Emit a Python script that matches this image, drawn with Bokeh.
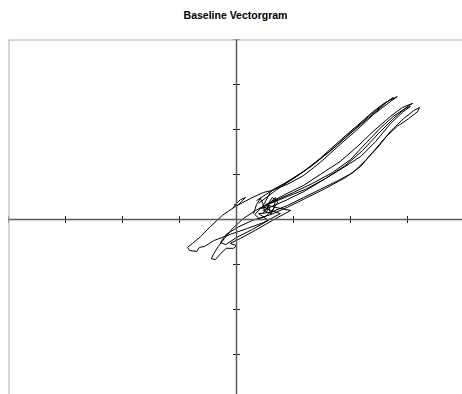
from bokeh.plotting import figure
from bokeh.models import Range1d, Span, Title
from bokeh.embed import file_html
from bokeh.resources import INLINE
import math

# Vector loops (x, y in axis-tick units)
loop1_x = [0.46, 0.60, 0.89, 1.18, 1.47, 1.82, 2.12, 2.40, 2.61, 2.82, 2.70, 2.40, 2.12, 1.82, 1.47, 1.18, 0.89, 0.60, 0.47, 0.25, -0.02, -0.25, -0.46, -0.63, -0.77, -0.86, -0.82, -0.70, -0.65, -0.56, -0.40, -0.11, 0.19, 0.47, 0.77, 0.60, 0.46]
loop1_y = [0.29, 0.62, 0.84, 1.07, 1.36, 1.76, 2.09, 2.40, 2.60, 2.73, 2.62, 2.33, 2.00, 1.67, 1.27, 0.98, 0.78, 0.64, 0.60, 0.47, 0.29, 0.09, -0.16, -0.38, -0.53, -0.62, -0.69, -0.71, -0.62, -0.60, -0.47, -0.33, -0.20, -0.07, 0.13, 0.20, 0.29]

loop2_x = [0.51, 0.89, 1.18, 1.47, 1.82, 2.12, 2.40, 2.70, 2.91, 3.09, 3.00, 2.75, 2.49, 2.21, 1.91, 1.56, 1.21, 0.89, 0.60, 0.33, 0.12, -0.07, -0.21, -0.32, -0.40, -0.44, -0.37, -0.28, -0.18, -0.05, 0.00, -0.11, 0.07, 0.33, 0.63, 0.95, 0.68, 0.51]
loop2_y = [0.33, 0.58, 0.76, 1.00, 1.29, 1.62, 1.96, 2.29, 2.49, 2.58, 2.51, 2.24, 1.91, 1.53, 1.20, 0.91, 0.67, 0.51, 0.36, 0.20, 0.02, -0.20, -0.42, -0.60, -0.76, -0.87, -0.89, -0.76, -0.64, -0.64, -0.58, -0.53, -0.42, -0.24, -0.02, 0.20, 0.27, 0.33]

loop3_x = [0.39, 0.60, 0.89, 1.18, 1.47, 1.79, 2.04, 2.26, 2.49, 2.70, 2.93, 3.11, 3.21, 3.18, 3.02, 2.82, 2.61, 2.40, 2.18, 1.91, 1.56, 1.21, 0.89, 0.60, 0.28, 0.04, -0.18, -0.28, -0.19, 0.00, 0.28, 0.56, 0.39]
loop3_y = [0.13, 0.16, 0.31, 0.49, 0.67, 0.87, 1.04, 1.31, 1.62, 1.96, 2.24, 2.42, 2.49, 2.40, 2.24, 2.07, 1.82, 1.51, 1.18, 0.93, 0.69, 0.47, 0.27, 0.11, -0.02, -0.16, -0.33, -0.51, -0.56, -0.40, -0.22, -0.02, 0.13]

loop4_x = [0.46, 0.89, 1.18, 1.47, 1.82, 2.18, 2.44, 2.70, 2.91, 3.05, 2.96, 2.75, 2.53, 2.28, 2.00, 1.68, 1.33, 1.00, 0.68, 0.39]
loop4_y = [0.20, 0.44, 0.62, 0.84, 1.11, 1.40, 1.73, 2.13, 2.38, 2.51, 2.47, 2.29, 2.04, 1.71, 1.33, 1.04, 0.80, 0.60, 0.42, 0.24]

loop5_x = [0.39, 0.68, 0.95, 1.30, 1.65, 2.00, 2.32, 2.58, 2.75, 2.63, 2.39, 2.04, 1.70, 1.33, 1.00, 0.68, 0.35]
loop5_y = [0.36, 0.64, 0.87, 1.18, 1.53, 1.93, 2.29, 2.56, 2.71, 2.60, 2.33, 1.96, 1.58, 1.20, 0.91, 0.69, 0.42]

loop6_x = [0.30, 0.35, 0.42, 0.46, 0.49, 0.53, 0.58, 0.63, 0.68, 0.65, 0.60, 0.56, 0.68, 0.72, 0.63, 0.51, 0.40, 0.32, 0.42, 0.56, 0.46]
loop6_y = [0.13, 0.33, 0.47, 0.36, 0.20, 0.16, 0.40, 0.49, 0.42, 0.24, 0.11, 0.33, 0.49, 0.38, 0.20, 0.07, 0.02, 0.11, 0.24, 0.29, 0.13]

loop7_x = [-0.07, 0.00, 0.07, 0.16, 0.09, 0.02, -0.04]
loop7_y = [0.24, 0.36, 0.44, 0.49, 0.40, 0.31, 0.33]

x_ticks = [-4, -3, -2, -1, 1, 2, 3]
y_ticks = [-3, -2, -1, 1, 2, 3, 4]
title_text = "Baseline Vectorgram"

p = figure(width=462, height=394, output_backend="svg", toolbar_location=None,
           x_axis_type=None, y_axis_type=None,
           x_range=Range1d(-4, 3.965), y_range=Range1d(-3.889, 4),
           min_border_left=8, min_border_right=0, min_border_bottom=0, min_border_top=39)
p.outline_line_color = None
p.grid.visible = False
p.background_fill_color = "white"
p.border_fill_color = "white"

# spacer panel closest to the frame, then the real title above it
p.add_layout(Title(text=" ", text_font_size="10px", standoff=6), "above")
p.add_layout(Title(text=title_text, align="center", text_font="Liberation Sans",
                   text_font_style="bold", text_font_size="10.5px",
                   text_color="black", standoff=0), "above")

# frame borders (top, left)
p.add_layout(Span(location=4, dimension="width", line_color="#b0b0b0", line_width=2))
p.add_layout(Span(location=-4, dimension="height", line_color="#b0b0b0", line_width=2))
# center axes
p.add_layout(Span(location=0, dimension="width", line_color="#5a5a5a", line_width=1.5))
p.add_layout(Span(location=0, dimension="height", line_color="#5a5a5a", line_width=1.5))

p.scatter(x_ticks, [0] * len(x_ticks), marker="dash", size=7, angle=math.pi / 2,
          line_color="#222222", line_width=1)
p.scatter([0] * len(y_ticks), y_ticks, marker="dash", size=7,
          line_color="#222222", line_width=1)

for xs, ys in [(loop1_x, loop1_y), (loop2_x, loop2_y), (loop3_x, loop3_y),
               (loop4_x, loop4_y), (loop5_x, loop5_y), (loop6_x, loop6_y),
               (loop7_x, loop7_y)]:
    p.line(xs, ys, line_color="black", line_width=1)

open("out.html", "w").write(file_html(p, INLINE))
